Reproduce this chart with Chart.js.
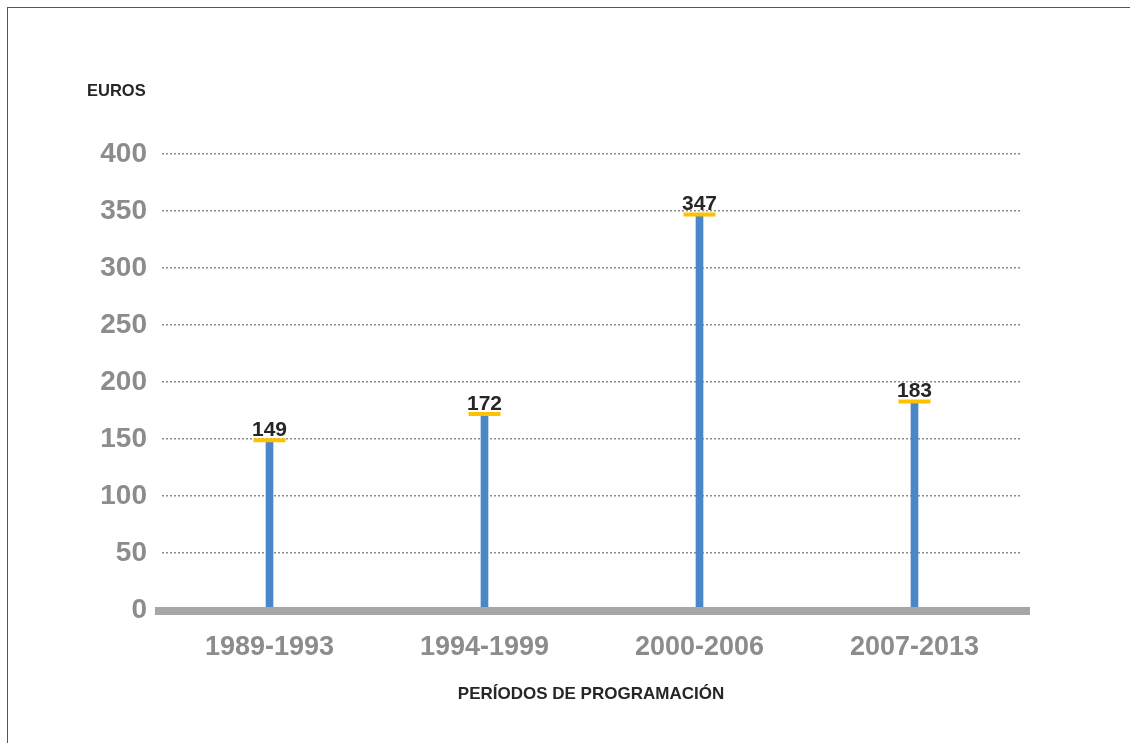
<!DOCTYPE html>
<html>
<head>
<meta charset="utf-8">
<script src="https://cdn.jsdelivr.net/npm/chart.js@4/dist/chart.umd.min.js"></script>
<style>
  html, body { margin: 0; padding: 0; background: #fff; }
  #wrap { width: 1130px; height: 743px; }
</style>
</head>
<body>
<div id="wrap"><canvas id="c" width="1130" height="743"></canvas></div>
<script>
const periods = ["1989-1993", "1994-1999", "2000-2006", "2007-2013"];
const euros = [149, 172, 347, 183];
const yTicks = [0, 50, 100, 150, 200, 250, 300, 350, 400];
const yTitle = "EUROS";
const xTitle = "PERÍODOS DE PROGRAMACIÓN";

const FONT = "'Liberation Sans', Arial, sans-serif";

// frame, titles, baseline and value labels
const extras = {
  id: "extras",
  beforeDraw(chart) {
    const ctx = chart.ctx;
    ctx.save();
    ctx.fillStyle = "#fff";
    ctx.fillRect(0, 0, chart.width, chart.height);
    ctx.strokeStyle = "#555";
    ctx.lineWidth = 1;
    ctx.strokeRect(7.5, 7.5, 1300, 1300);
    ctx.restore();
  },
  afterDatasetsDraw(chart) {
    const ctx = chart.ctx;
    const area = chart.chartArea;
    const y = chart.scales.y.getPixelForValue(0);
    ctx.save();
    ctx.fillStyle = "#A6A6A8";
    ctx.fillRect(area.left - 7, y - 3, area.right - area.left + 15, 8);
    ctx.fillStyle = "#262626";
    ctx.textBaseline = "middle";
    ctx.font = "bold 16.5px " + FONT;
    ctx.textAlign = "left";
    ctx.fillText(yTitle, 87, 91);
    ctx.font = "bold 17px " + FONT;
    ctx.textAlign = "center";
    ctx.fillText(xTitle, 591, 694);
    // value labels over the caps
    const meta = chart.getDatasetMeta(1);
    ctx.font = "bold 21px " + FONT;
    ctx.textBaseline = "alphabetic";
    meta.data.forEach((pt, i) => {
      ctx.fillText(String(euros[i]), pt.x, pt.y - 4);
    });
    ctx.restore();
  }
};

new Chart(document.getElementById("c"), {
  data: {
    labels: periods,
    datasets: [
      {
        type: "bar",
        data: euros,
        backgroundColor: "#4A86C8",
        barThickness: 7,
        order: 2
      },
      {
        type: "line",
        data: euros,
        showLine: false,
        pointStyle: "line",
        pointRadius: 16,
        pointHoverRadius: 16,
        pointBorderWidth: 4,
        pointBorderColor: "#FFC000",
        pointBackgroundColor: "#FFC000",
        order: 1
      }
    ]
  },
  options: {
    responsive: false,
    animation: false,
    events: [],
    layout: { padding: { top: 154, right: 108, bottom: 0, left: 0 } },
    plugins: { legend: { display: false }, tooltip: { enabled: false } },
    scales: {
      x: {
        grid: { display: false, drawTicks: false },
        border: { display: false },
        ticks: {
          color: "#8C8C8C",
          font: { family: FONT, size: 27, weight: "bold" },
          padding: 21,
          maxRotation: 0
        },
        afterFit(scale) { scale.height = 133; }
      },
      y: {
        min: 0,
        max: 400,
        afterBuildTicks(scale) { scale.ticks = yTicks.map(v => ({ value: v })); },
        grid: { color: "#8C8C8C", lineWidth: 1.5, drawTicks: false },
        border: { display: false, dash: [2, 2] },
        ticks: {
          color: "#8C8C8C",
          font: { family: FONT, size: 28, weight: "bold" },
          padding: 15
        },
        afterFit(scale) { scale.width = 162; }
      }
    }
  },
  plugins: [extras]
});
</script>
</body>
</html>
